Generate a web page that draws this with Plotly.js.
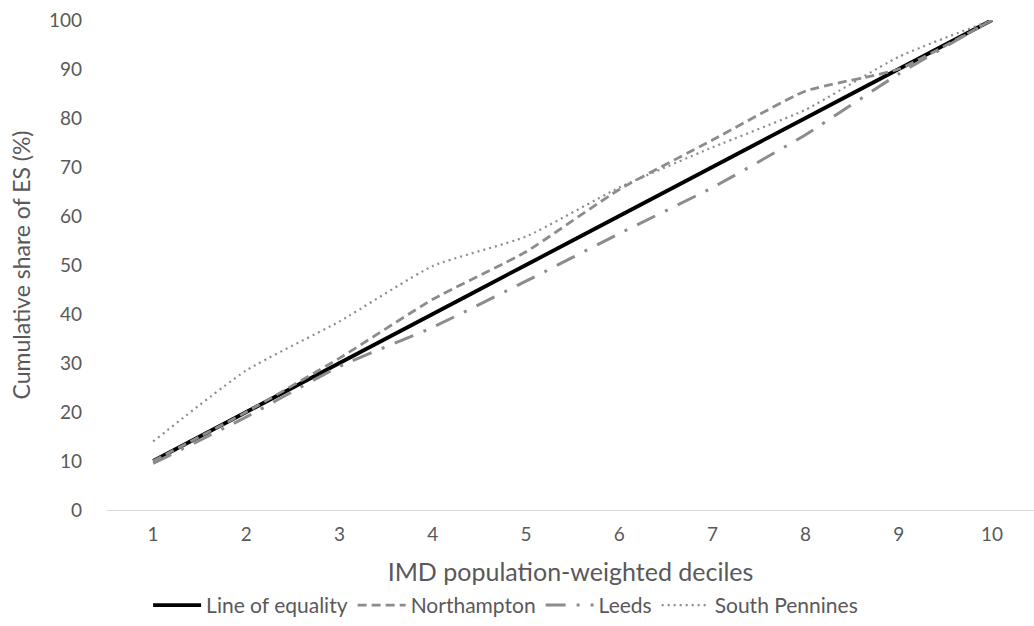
<!DOCTYPE html>
<html>
<head>
<meta charset="utf-8">
<script src="https://cdn.plot.ly/plotly-3.0.1.min.js"></script>
<style>html,body{margin:0;padding:0;background:#fff;}#chart{width:1034px;height:626px;}</style>
</head>
<body>
<div id="chart"></div>
<script>
var deciles = [1, 2, 3, 4, 5, 6, 7, 8, 9, 10];
var tickLabels = ["1", "2", "3", "4", "5", "6", "7", "8", "9", "10"];
var lineOfEquality = [10, 20, 30, 40, 50, 60, 70, 80, 90, 100];
var northampton = [10, 20, 31, 43, 52.7, 65.4, 75.5, 85.5, 90, 100];
var leeds = [9.5, 19, 29.3, 37.3, 46.7, 56.4, 65.8, 76.6, 89, 100];
var southPennines = [14, 28.5, 38.5, 49.8, 55.8, 65.8, 74, 81.7, 92.5, 100];

var fontFam = "Lato, 'Open Sans', sans-serif";
var grey = "#8c8c8c";

var traces = [
  {x: deciles, y: lineOfEquality, name: "Line of equality", mode: "lines",
   line: {color: "#000000", width: 3.8, shape: "spline", smoothing: 0.5}},
  {x: deciles, y: northampton, name: "Northampton", mode: "lines",
   line: {color: grey, width: 2.8, dash: "9px,5px", shape: "spline", smoothing: 0.5}},
  {x: deciles, y: leeds, name: "Leeds", mode: "lines",
   line: {color: grey, width: 3, dash: "20px,11px,3px,11px", shape: "spline", smoothing: 0.5}},
  {x: deciles, y: southPennines, name: "South Pennines", mode: "lines",
   line: {color: grey, width: 2.2, dash: "2px,4px", shape: "spline", smoothing: 0.5}}
];

var layout = {
  width: 1034, height: 626,
  margin: {l: 107, r: 0, t: 20, b: 105},
  paper_bgcolor: "#ffffff", plot_bgcolor: "#ffffff",
  font: {family: fontFam, color: "#595959", size: 19},
  showlegend: true,
  legend: {orientation: "h", x: 0.43, xanchor: "center", y: -0.153, yanchor: "top",
           font: {size: 21, color: "#595959"}, traceorder: "normal", itemwidth: 48},
  xaxis: {
    range: [0.505, 10.45], tickvals: deciles, ticktext: tickLabels,
    showgrid: false, zeroline: false, showline: true, linecolor: "#d9d9d9", linewidth: 1,
    ticks: "", ticklabelstandoff: 7, tickfont: {size: 19, color: "#595959"},
    title: {text: "IMD population-weighted deciles", font: {size: 25, color: "#595959"}, standoff: 19}
  },
  yaxis: {
    range: [0, 100], dtick: 10, showgrid: false, zeroline: false, showline: false,
    ticks: "", ticklabelstandoff: 24, tickfont: {size: 19, color: "#595959"},
    title: {text: "Cumulative share of ES (%)", font: {size: 23, color: "#595959"}, standoff: 11}
  }
};

Plotly.newPlot("chart", traces, layout, {displayModeBar: false, staticPlot: true});
</script>
</body>
</html>
